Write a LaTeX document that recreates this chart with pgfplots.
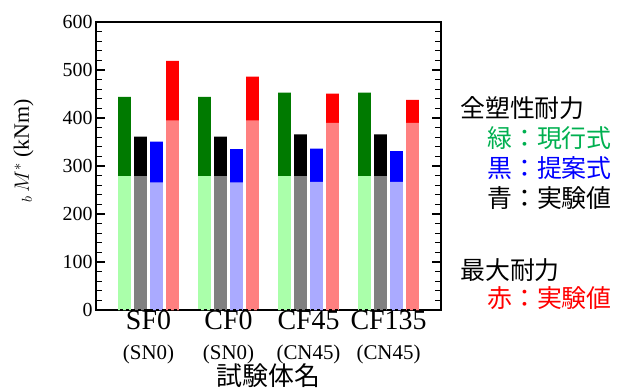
\documentclass[border=0pt]{standalone}
\usepackage{pgfplots}
\pgfplotsset{compat=1.18}
\usepackage{fontspec}
\setmainfont{Liberation Serif}
\newfontfamily\cjk{Noto Sans CJK JP}
\definecolor{lgreen}{HTML}{AAFFAA}
\definecolor{dgreen}{HTML}{007A00}
\definecolor{lgray}{HTML}{808080}
\definecolor{lblue}{HTML}{AAAAFF}
\definecolor{dblue}{HTML}{0000FF}
\definecolor{lred}{HTML}{FF8080}
\definecolor{dred}{HTML}{FF0000}
\definecolor{tgreen}{HTML}{00B050}
\begin{document}
\begin{tikzpicture}
\useasboundingbox (-96bp,-80bp) rectangle (529bp,310bp);
\begin{axis}[
  scale only axis, width=345bp, height=288bp,
  at={(0,0)}, anchor=south west,
  xmin=0.344, xmax=4.656, ymin=0, ymax=600,
  ytick={0,100,...,600}, minor y tick num=4,
  ytick pos=both, tick align=inside,
  major tick length=9bp, minor tick length=6bp,
  every tick/.style={black, line width=1.1pt},
  axis line style={black, line width=1.2pt},
  xtick={1,2,3,4}, xtick pos=bottom,
  major x tick style={draw=none},
  xticklabels={{SF0\\{\fontsize{21}{22}\selectfont (SN0)}},
               {CF0\\{\fontsize{21}{22}\selectfont (SN0)}},
               {CF45\\{\fontsize{21}{22}\selectfont (CN45)}},
               {CF135\\{\fontsize{21}{22}\selectfont (CN45)}}},
  xticklabel style={align=center, font=\fontsize{28}{30}\selectfont, inner sep=1pt},
  yticklabel style={font=\fontsize{20}{24}\selectfont},
  /pgf/number format/assume math mode=true,
  ylabel={$_{b}\,M^{*}$ (kNm)},
  ylabel style={font=\fontsize{22}{24}\selectfont, at={(axis description cs:-0.171,0.552)}},
  xlabel={\cjk 試験体名},
  xlabel style={font=\fontsize{26}{28}\selectfont, yshift=5bp},
]
% darker upper parts (full height)
\addplot[ybar, bar width=0.16, bar shift=0pt, fill=dgreen, draw=none] coordinates {(0.7,444) (1.7,444) (2.7,453) (3.7,453)};
\addplot[ybar, bar width=0.16, bar shift=0pt, fill=black, draw=none] coordinates {(0.9,361) (1.9,361) (2.9,366) (3.9,366)};
\addplot[ybar, bar width=0.16, bar shift=0pt, fill=dblue, draw=none] coordinates {(1.1,351) (2.1,335) (3.1,336) (4.1,331)};
\addplot[ybar, bar width=0.16, bar shift=0pt, fill=dred, draw=none] coordinates {(1.3,519) (2.3,486) (3.3,451) (4.3,438)};
% lighter lower parts
\addplot[ybar, bar width=0.16, bar shift=0pt, fill=lgreen, draw=none] coordinates {(0.7,279) (1.7,279) (2.7,279) (3.7,279)};
\addplot[ybar, bar width=0.16, bar shift=0pt, fill=lgray, draw=none] coordinates {(0.9,279) (1.9,279) (2.9,279) (3.9,279)};
\addplot[ybar, bar width=0.16, bar shift=0pt, fill=lblue, draw=none] coordinates {(1.1,266) (2.1,266) (3.1,267) (4.1,267)};
\addplot[ybar, bar width=0.16, bar shift=0pt, fill=lred, draw=none] coordinates {(1.3,395) (2.3,395) (3.3,390) (4.3,390)};
\addplot[black, dashed, line width=1.2pt] coordinates {(0.344,0) (4.656,0)};
\end{axis}
\begin{scope}[every node/.style={anchor=west, inner sep=0pt, font=\cjk\fontsize{25}{27}\selectfont}]
\node at (364bp,202bp) {全塑性耐力};
\node[text=tgreen] at (391bp,172bp) {緑：現行式};
\node[text=dblue] at (391bp,142bp) {黒：提案式};
\node at (391bp,112bp) {青：実験値};
\node at (364bp,40bp) {最大耐力};
\node[text=dred] at (391bp,12bp) {赤：実験値};
\end{scope}
\end{tikzpicture}
\end{document}
